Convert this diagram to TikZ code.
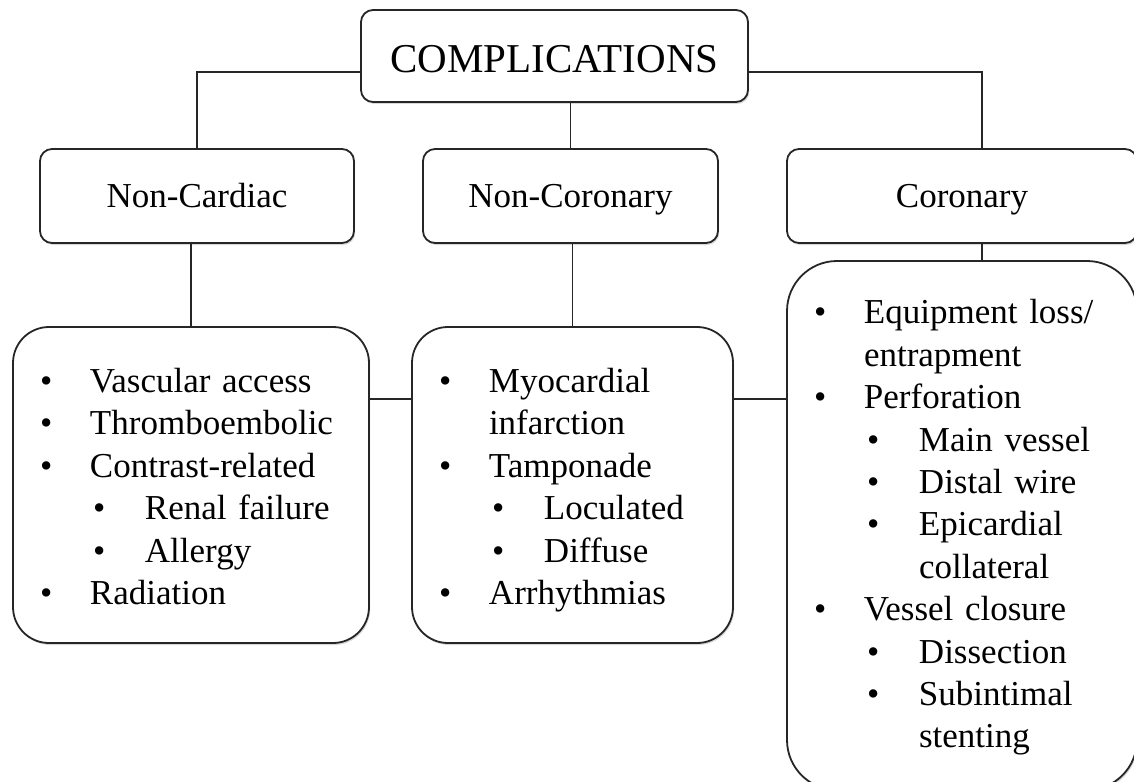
\documentclass[tikz,border=0pt]{standalone}
\usepackage{fontspec}
\setmainfont{Liberation Serif}
\usepackage{tikz}
\usetikzlibrary{positioning}
\usetikzlibrary{shadows}

\newcommand\bul[1]{\mbox{\strut\makebox[25pt][l]{\textbullet}#1}}
\newcommand\subbul[1]{\mbox{\strut\hspace*{26.5pt}\makebox[26pt][l]{\textbullet}#1}}
\newcommand\cnt[1]{\mbox{\strut\hspace*{25pt}#1}}
\newcommand\subcnt[1]{\mbox{\strut\hspace*{52.5pt}#1}}
\newcommand\toppad[1]{\rule{0pt}{#1}}

\begin{document}
\begin{tikzpicture}[x=0.5pt,y=-0.5pt,
	box/.style={draw=black!85, line width=0.9pt, fill=white, rounded corners=6pt,
		drop shadow={shadow xshift=0.6pt, shadow yshift=-1pt, opacity=0.3}},
	catbox/.style={box, minimum height=47pt, text height=11.6pt, text depth=0pt,
		font=\fontsize{17.5}{21}\selectfont},
	listbox/.style={box, rounded corners=18pt, align=left, inner xsep=13.5pt,
		font=\fontsize{17.5}{21.2}\selectfont},
	link/.style={draw=black!85, line width=0.9pt}]
	    \useasboundingbox (0,0) rectangle (1134,781);
	    \node(top) [catbox, minimum width=193.5pt, minimum height=46pt, text height=17pt, font=\fontsize{20.5}{24}\selectfont] at (554.5,56) {COMPLICATIONS};
	    \node(ncard) [catbox, minimum width=157pt] at (197,196) {Non-Cardiac};
	    \node(ncor) [catbox, minimum width=147.5pt] at (570.5,196) {Non-Coronary};
	    \node(cor) [catbox, minimum width=175pt] at (962,196) {Coronary};
	    \node(lcard) [listbox, minimum width=178pt, minimum height=158pt, text width=151pt] at (191,485)
	        {\toppad{19.8pt}\bul{Vascular access}\\ \bul{Thromboembolic}\\ \bul{Contrast-related}\\
	         \subbul{Renal failure}\\ \subbul{Allergy}\\ \bul{Radiation}};
	    \node(lcor) [listbox, minimum width=160.5pt, minimum height=158pt, text width=133.5pt] at (572.5,485)
	        {\toppad{19.8pt}\bul{Myocardial}\\ \cnt{infarction}\\ \bul{Tamponade}\\
	         \subbul{Loculated}\\ \subbul{Diffuse}\\ \bul{Arrhythmias}};
	    \node(lcoro) [listbox, rounded corners=25pt, minimum width=175pt, minimum height=264.5pt, text width=148pt] at (962,525.5)
	        {\toppad{16.8pt}\bul{Equipment loss/}\\ \cnt{entrapment}\\ \bul{Perforation}\\
	         \subbul{Main vessel}\\ \subbul{Distal wire}\\ \subbul{Epicardial}\\ \subcnt{collateral}\\
	         \bul{Vessel closure}\\ \subbul{Dissection}\\ \subbul{Subintimal}\\ \subcnt{stenting}};
	    \draw[link] ([yshift=-8pt]top.west) -| (ncard);
	    \draw[link] ([yshift=-8pt]top.east) -| ([xshift=10pt]cor.north);
	    \draw[link] (ncor.north) -- (ncor.north |- top.south);
	    \draw[link] (lcard.north) -- (lcard.north |- ncard.south);
	    \draw[link] (lcor.north) -- (lcor.north |- ncor.south);
	    \draw[link] ([xshift=10pt]cor.south) -- ([xshift=10pt]cor.south |- lcoro.north);
	    \draw[link] ([yshift=43pt]lcard.east) -- ([yshift=43pt]lcard.east -| lcor.west);
	    \draw[link] ([yshift=43pt]lcor.east) -- ([yshift=43pt]lcor.east -| lcoro.west);
	  \end{tikzpicture}
\end{document}
